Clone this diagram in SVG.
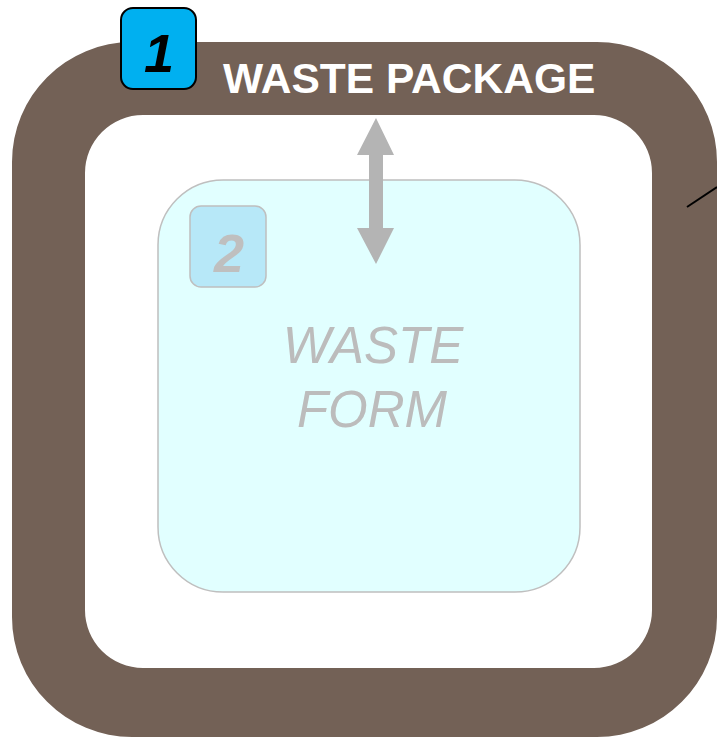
<svg xmlns="http://www.w3.org/2000/svg" width="717" height="738" viewBox="0 0 717 738">
<style>
.badge-text{font-family:"Liberation Sans",Arial,sans-serif;font-weight:bold;font-style:italic;font-size:54px;text-anchor:middle}
.title{font-family:"Liberation Sans",Arial,sans-serif;font-weight:bold;font-size:42.5px;fill:#ffffff}
.form{font-family:"Liberation Sans",Arial,sans-serif;font-style:italic;font-size:51px;fill:#bcbcbc;text-anchor:middle}
</style>
<rect width="717" height="738" fill="#ffffff"/>
<g id="waste-package">
<path fill="#736156" fill-rule="evenodd" d="M132,42 H597 A120,120 0 0 1 717,162 V617 A120,120 0 0 1 597,737 H132 A120,120 0 0 1 12,617 V162 A120,120 0 0 1 132,42 Z M143,115 H594 A58,58 0 0 1 652,173 V610 A58,58 0 0 1 594,668 H143 A58,58 0 0 1 85,610 V173 A58,58 0 0 1 143,115 Z"/>
<text class="title" x="223" y="93">WASTE PACKAGE</text>
</g>
<g id="waste-form">
<rect x="158" y="180" width="422" height="412" rx="65" ry="65" fill="#e1ffff" stroke="#bfbfbf" stroke-width="1.5"/>
<text class="form" x="373" y="363">WASTE</text>
<text class="form" x="372" y="427">FORM</text>
</g>
<g id="badge-1">
<rect x="121" y="8" width="75" height="81" rx="12" ry="12" fill="#00b0f0" stroke="#000000" stroke-width="2"/>
<text class="badge-text" x="159" y="72" fill="#000000">1</text>
</g>
<g id="badge-2">
<rect x="190" y="206" width="76" height="81" rx="11" ry="11" fill="#b7e8f8" stroke="#bfbfbf" stroke-width="1.5"/>
<text class="badge-text" x="229" y="272" fill="#bfbfbf">2</text>
</g>
<g id="connectors">
<polygon fill="#b4b4b4" points="376,118 394,155 383,155 383,228 394,228 376,264 357,228 369,228 369,155 357,155"/>
<line x1="687" y1="207" x2="717" y2="187" stroke="#000000" stroke-width="2"/>
</g>
</svg>
